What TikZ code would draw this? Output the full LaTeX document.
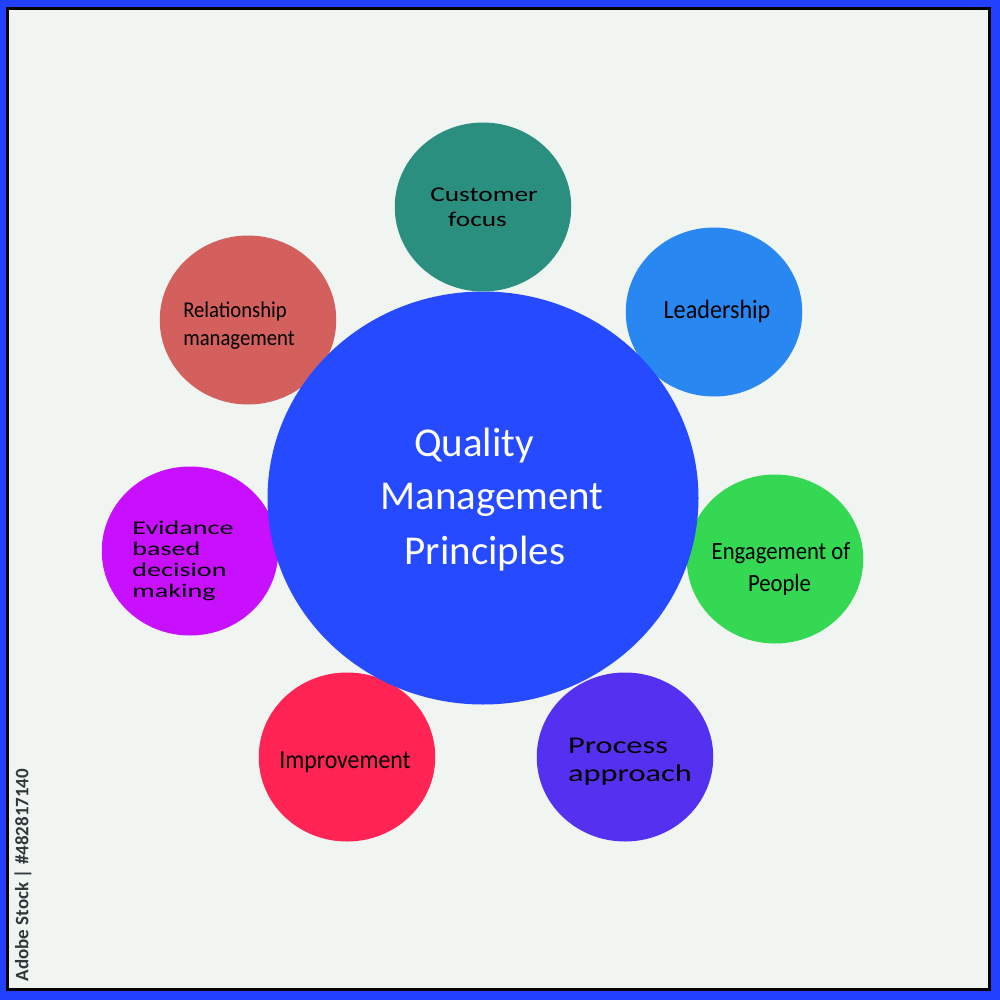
\documentclass[tikz,border=0pt]{standalone}
\usepackage{fontspec}
\usetikzlibrary{shapes.geometric}
\setmainfont{Carlito}
\newfontfamily\stra[FakeStretch=1.30]{Carlito}
\newfontfamily\strb[FakeStretch=1.45]{Carlito}
\newfontfamily\strc[FakeStretch=1.35]{Carlito}
\newfontfamily\nar[FakeStretch=0.915]{Carlito}
\definecolor{bgc}{HTML}{F0F5F2}
\definecolor{framec}{HTML}{2140FF}
\begin{document}
\begin{tikzpicture}[x=0.5pt,y=-0.5pt,
 sat/.style={ellipse,minimum width=88.25pt,minimum height=84.5pt,inner sep=0pt,align=center,text=black},
 title/.style={text=white,font=\fontsize{20.5}{20}\selectfont}]
\useasboundingbox (0,0) rectangle (1000,1000);
\fill[framec] (0,0) rectangle (1000,1000);
\fill[black] (6,7) rectangle (991,991);
\fill[bgc] (9,10) rectangle (988,988);
\node[sat,fill={rgb,255:red,42;green,143;blue,126}] (cust) at (483,207) {};
\node[sat,fill={rgb,255:red,40;green,135;blue,240}] (lead) at (714,312) {};
\node[sat,fill={rgb,255:red,52;green,216;blue,82}] (eng) at (775,559) {};
\node[sat,fill={rgb,255:red,86;green,48;blue,240}] (proc) at (625,757) {};
\node[sat,fill={rgb,255:red,255;green,36;blue,84}] (impr) at (347,757) {};
\node[sat,fill={rgb,255:red,200;green,16;blue,255}] (evid) at (190,551) {};
\node[sat,fill={rgb,255:red,212;green,96;blue,94}] (rel) at (248,320) {};
\node[ellipse,minimum width=215.5pt,minimum height=206.5pt,inner sep=0pt,fill={rgb,255:red,38;green,74;blue,255}] (main) at (483,498) {};
\node[title] (t1) at (474,446) {Quality};
\node[title] (t2) at (492,500) {Management};
\node[title] (t3) at (485,554) {Principles};
\node[font=\stra\fontsize{10.5}{12.5}\selectfont,align=center] (tc) at (484,207) {Customer\\focus\hspace*{6.5pt}};
\node[font=\nar\fontsize{13.2}{14}\selectfont] (tl) at (717,311) {Leadership};
\node[font=\nar\fontsize{12.4}{16}\selectfont,align=center] (te) at (781,569) {Engagement of\\People\hspace*{1.5pt}};
\node[font=\strc\fontsize{12}{14}\selectfont,align=left] (tp) at (630,762) {Process\\approach};
\node[font=\nar\fontsize{13}{14}\selectfont] (ti) at (345,762) {Improvement};
\node[font=\strb\fontsize{9.7}{10.6}\selectfont,align=left] (tv) at (183,561) {Evidance\\based\\decision\\making};
\node[font=\nar\fontsize{11.3}{14}\selectfont,align=left] (tr) at (239,326) {Relationship\\management};
\node[rotate=90,font=\fontsize{9.5}{10}\selectfont\bfseries,text={rgb,255:red,50;green,55;blue,60}] (wm) at (23,875) {Adobe Stock | \#482817140};
\end{tikzpicture}
\end{document}
